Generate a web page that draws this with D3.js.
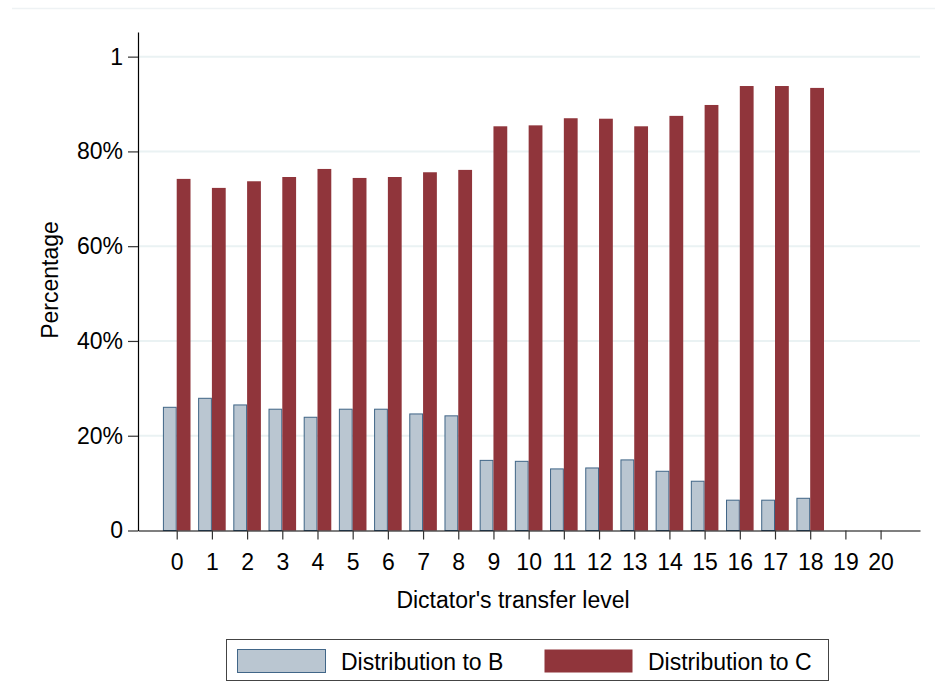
<!DOCTYPE html>
<html>
<head>
<meta charset="utf-8">
<script src="https://cdn.jsdelivr.net/npm/d3@7"></script>
<style>
  body { margin: 0; background: #fff; }
  svg { font-family: "Liberation Sans", Arial, Helvetica, sans-serif; }
</style>
</head>
<body>
<svg id="chart" style="width:935px;height:682px"></svg>
<script>
// transfer levels on the x axis
var levels = ['0','1','2','3','4','5','6','7','8','9','10','11','12','13','14','15','16','17','18','19','20'];
// share of subjects choosing distribution to B / to C (no data at 19, 20)
var shareB = [0.260,0.279,0.265,0.256,0.239,0.256,0.256,0.246,0.242,0.148,0.146,0.130,0.132,0.149,0.125,0.104,0.064,0.064,0.068,null,null];
var shareC = [0.742,0.723,0.737,0.746,0.763,0.744,0.746,0.756,0.761,0.853,0.855,0.870,0.869,0.853,0.875,0.898,0.938,0.938,0.934,null,null];
var yTicks = [0, 0.2, 0.4, 0.6, 0.8, 1];
var yTickLabels = ['0', '20%', '40%', '60%', '80%', '1'];
var seriesNames = ['Distribution to B', 'Distribution to C'];

d3.select(window).on('load', init);

function init() {

    var svg = d3.select('#chart');

    var left = 138, right = 920, top = 32, bottom = 530.5;
    var barW = 13.8;
    var fontSize = '23px';

    var xScale = d3.scaleLinear()
        .domain([-1.1, 21.12])
        .range([left, right]);

    var yScale = d3.scaleLinear()
        .domain([0, 1.052])
        .range([bottom, top]);

    // faint outer border line at top
    svg.append('line')
        .attr('x1', 12).attr('x2', 935)
        .attr('y1', 8.5).attr('y2', 8.5)
        .attr('stroke', '#eef2f4')
        .attr('stroke-width', 1.5);

    // gridlines
    svg.append('g')
        .selectAll('line')
        .data(yTicks.slice(1))
        .enter()
        .append('line')
        .attr('x1', left)
        .attr('x2', right)
        .attr('y1', function(d){ return yScale(d); })
        .attr('y2', function(d){ return yScale(d); })
        .attr('stroke', '#eaf2f3')
        .attr('stroke-width', 2);

    var plot = svg.append('g');

    plot.selectAll('rect.b')
        .data(shareB)
        .enter()
        .filter(function(d){ return d !== null; })
        .append('rect')
        .attr('class', 'b')
        .attr('x', function(d, i){ return xScale(i) - barW + 0.5; })
        .attr('y', function(d){ return yScale(d); })
        .attr('width', barW - 1)
        .attr('height', function(d){ return bottom - yScale(d); })
        .attr('fill', '#bac6d1')
        .attr('stroke', '#1a476f')
        .attr('stroke-opacity', 0.8)
        .attr('stroke-width', 1);

    plot.selectAll('rect.c')
        .data(shareC)
        .enter()
        .filter(function(d){ return d !== null; })
        .append('rect')
        .attr('class', 'c')
        .attr('x', function(d, i){ return xScale(i); })
        .attr('y', function(d){ return yScale(d); })
        .attr('width', barW)
        .attr('height', function(d){ return bottom - yScale(d); })
        .attr('fill', '#90353b');

    // x axis
    var xAxis = d3.axisBottom(xScale)
        .tickValues(d3.range(levels.length))
        .tickFormat(function(d){ return levels[d]; })
        .tickSize(9)
        .tickSizeOuter(0)
        .tickPadding(14);

    var gx = svg.append('g')
        .attr('transform', 'translate(0,' + bottom + ')')
        .call(xAxis);
    gx.select('.domain').attr('stroke', '#000').attr('stroke-width', 1.2);
    gx.selectAll('.tick line').attr('stroke', '#333').attr('stroke-width', 1.2);
    gx.selectAll('.tick text')
        .attr('fill', '#000')
        .style('font-size', fontSize)
        .style('font-family', '"Liberation Sans", Arial, sans-serif');

    // y axis
    var yAxis = d3.axisLeft(yScale)
        .tickValues(yTicks)
        .tickFormat(function(d, i){ return yTickLabels[i]; })
        .tickSize(10)
        .tickSizeOuter(0)
        .tickPadding(5);

    var gy = svg.append('g')
        .attr('transform', 'translate(' + left + ',0)')
        .call(yAxis);
    gy.select('.domain').attr('stroke', '#000').attr('stroke-width', 1.2);
    gy.selectAll('.tick line').attr('stroke', '#333').attr('stroke-width', 1.2);
    gy.selectAll('.tick text')
        .attr('fill', '#000')
        .style('font-size', fontSize)
        .style('font-family', '"Liberation Sans", Arial, sans-serif');

    // axis titles
    svg.append('text')
        .attr('transform', 'translate(58,280) rotate(-90)')
        .attr('text-anchor', 'middle')
        .style('font-size', fontSize)
        .text('Percentage');

    svg.append('text')
        .attr('x', 513)
        .attr('y', 608)
        .attr('text-anchor', 'middle')
        .style('font-size', fontSize)
        .text("Dictator's transfer level");

    // legend
    var legend = svg.append('g');
    legend.append('rect')
        .attr('x', 226.5).attr('y', 639.5)
        .attr('width', 602).attr('height', 41)
        .attr('fill', '#fff')
        .attr('stroke', '#444')
        .attr('stroke-width', 1);

    var swatchX = [237, 544];
    var fills = ['#bac6d1', '#90353b'];
    var strokes = ['#1a476f', 'none'];

    legend.selectAll('rect.sw')
        .data(seriesNames)
        .enter()
        .append('rect')
        .attr('class', 'sw')
        .attr('x', function(d, i){ return swatchX[i] + 0.5; })
        .attr('y', 649.5)
        .attr('width', 88)
        .attr('height', 23)
        .attr('fill', function(d, i){ return fills[i]; })
        .attr('stroke', function(d, i){ return strokes[i]; })
        .attr('stroke-opacity', 0.8);

    legend.selectAll('text')
        .data(seriesNames)
        .enter()
        .append('text')
        .attr('x', function(d, i){ return swatchX[i] + 104; })
        .attr('y', 670)
        .style('font-size', fontSize)
        .text(function(d){ return d; });
}
</script>
</body>
</html>
